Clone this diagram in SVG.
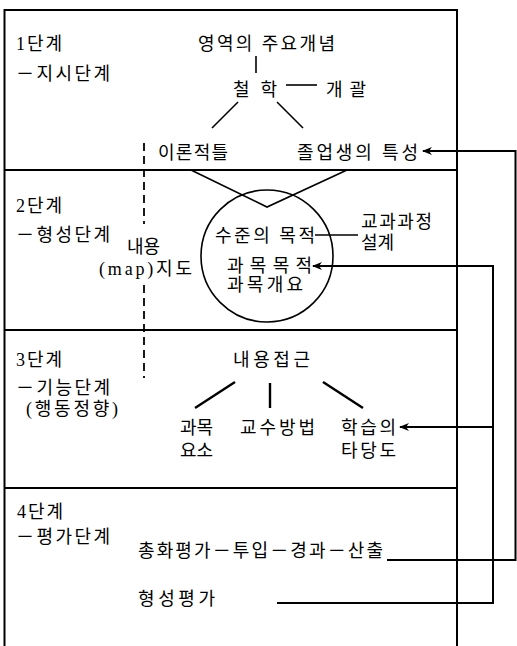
<svg xmlns="http://www.w3.org/2000/svg" width="517" height="646" viewBox="0 0 517 646">
<style>
text{font-family:"Liberation Serif","Noto Sans CJK KR",serif;font-size:18px;fill:#000}
.box{stroke:#000;stroke-width:2;fill:none}
.ln{stroke:#000;stroke-width:1.6;fill:none}
.thick{stroke:#000;stroke-width:2.4;fill:none}
.dash{stroke:#000;stroke-width:1.8;fill:none;stroke-dasharray:8 5}
.conn{stroke:#000;stroke-width:2;fill:none}
</style>
<defs>
<marker id="ah" viewBox="0 0 10 8" refX="9" refY="4" markerWidth="10" markerHeight="8" markerUnits="userSpaceOnUse" orient="auto">
<path d="M0,0 L10,4 L0,8 L3,4 z" fill="#000"/>
</marker>
</defs>
<rect width="517" height="646" fill="#fff"/>
<g id="frame">
<path class="box" d="M4.5,646 V10 H457 V646"/>
<path class="box" d="M4.5,170 H457 M4.5,330 H457 M4.5,488 H457"/>
<path class="dash" d="M144,143 V224 M144,285 V378"/>
</g>
<g id="stage1">
<text x="16" y="50" textLength="46">1단계</text>
<text x="16" y="80" textLength="94">－지시단계</text>
</g>
<g id="stage2">
<text x="16" y="212" textLength="46">2단계</text>
<text x="16" y="241" textLength="94">－형성단계</text>
</g>
<g id="stage3">
<text x="16" y="366" textLength="46">3단계</text>
<text x="16" y="394" textLength="94">－기능단계</text>
<text x="26" y="415" textLength="92">(행동정향)</text>
</g>
<g id="stage4">
<text x="17" y="518" textLength="46">4단계</text>
<text x="16" y="543" textLength="94">－평가단계</text>
</g>
<g id="n-concept"><text x="198" y="50" textLength="137">영역의 주요개념</text></g>
<g id="n-philosophy"><text x="233" y="96" textLength="44">철학</text></g>
<g id="n-overview"><text x="326" y="96" textLength="40">개괄</text></g>
<g id="n-theory"><text x="158" y="159" textLength="70">이론적틀</text></g>
<g id="n-graduate"><text x="297" y="159" textLength="121">졸업생의 특성</text></g>
<g id="n-map">
<text x="127" y="253">내용</text>
<text x="99" y="275" textLength="93">(map)지도</text>
</g>
<g id="n-circle">
<circle class="ln" cx="267" cy="256" r="66"/>
<text x="215" y="242" textLength="100">수준의 목적</text>
<text x="227" y="272" textLength="85">과목목적</text>
<text x="227" y="291" textLength="76">과목개요</text>
</g>
<g id="n-curriculum">
<text x="361" y="228" textLength="71">교과과정</text>
<text x="361" y="249">설계</text>
</g>
<g id="n-access"><text x="233" y="366" textLength="77">내용접근</text></g>
<g id="n-elements">
<text x="180" y="434">과목</text>
<text x="180" y="457">요소</text>
</g>
<g id="n-method"><text x="240" y="434" textLength="75">교수방법</text></g>
<g id="n-validity">
<text x="341" y="434" textLength="55">학습의</text>
<text x="341" y="457" textLength="55">타당도</text>
</g>
<g id="n-summative"><text x="138" y="557" textLength="245">총화평가－투입－경과－산출</text></g>
<g id="n-formative"><text x="138" y="605" textLength="77">형성평가</text></g>
<g id="connectors">
<path class="ln" d="M256,56 V73"/>
<path class="ln" d="M286,85 H317"/>
<path class="ln" d="M238,102 L212,128"/>
<path class="ln" d="M277,102 L303,128"/>
<path class="ln" d="M191,170 L267,207 L347,170"/>
<path class="ln" d="M315,235 H358"/>
<path class="thick" d="M235,382 L195,408"/>
<path class="thick" d="M270,383 V408"/>
<path class="thick" d="M323,382 L363,408"/>
<path class="conn" d="M387,560 H515.5 V151 H423" marker-end="url(#ah)"/>
<path class="conn" d="M277,603 H493 V266 H313" marker-end="url(#ah)"/>
<path class="conn" d="M493,427 H400" marker-end="url(#ah)"/>
</g>
</svg>
